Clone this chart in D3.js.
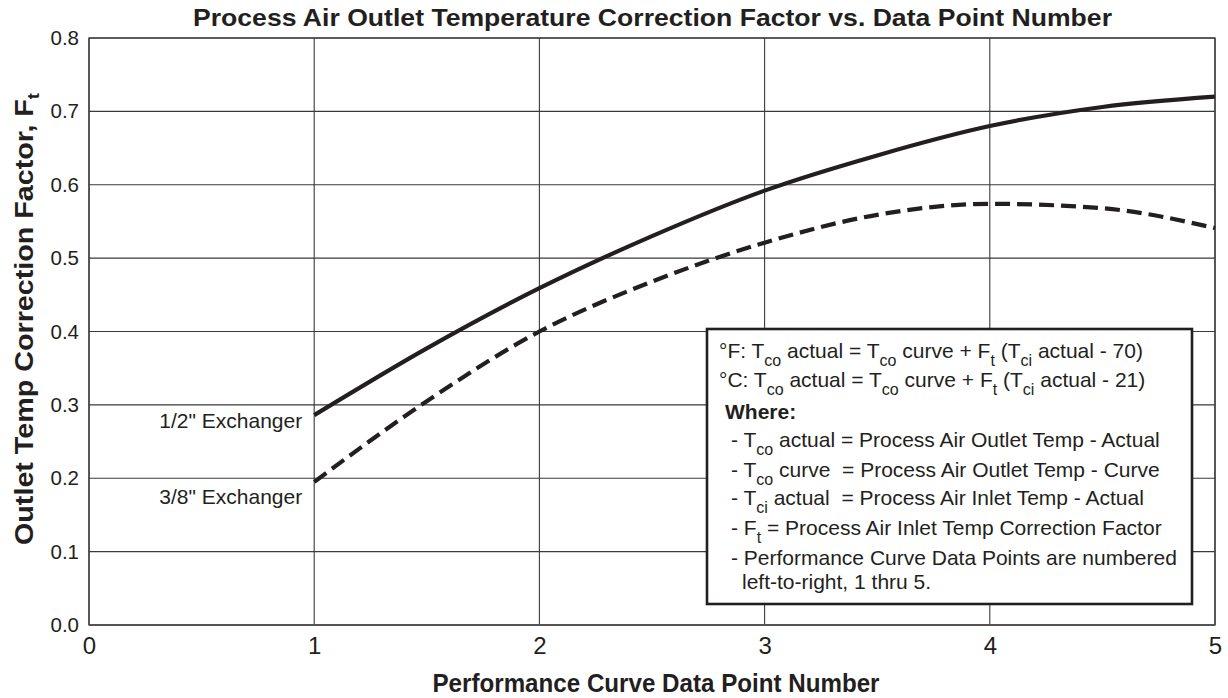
<!DOCTYPE html>
<html>
<head>
<meta charset="utf-8">
<script src="https://cdn.jsdelivr.net/npm/d3@7"></script>
<style>
  html, body { margin: 0; padding: 0; background: #fff; }
  svg text { font-family: "Liberation Sans", Arial, Helvetica, sans-serif; fill: #231f20; }
</style>
</head>
<body>
<svg id="chart" width="1228" height="698"></svg>
<script>
// ---- Data ----
const xTicks = [0, 1, 2, 3, 4, 5];
const yTicks = [0.0, 0.1, 0.2, 0.3, 0.4, 0.5, 0.6, 0.7, 0.8];
const pointNumbers = [1, 1.5, 2, 2.5, 3, 3.5, 4, 4.5, 5];
const halfInchValues = [0.286, 0.377, 0.459, 0.530, 0.592, 0.640, 0.680, 0.706, 0.720];
const threeEighthValues = [0.195, 0.305, 0.400, 0.468, 0.521, 0.559, 0.574, 0.568, 0.541];
const seriesLabels = ['1/2" Exchanger', '3/8" Exchanger'];
const chartTitle = "Process Air Outlet Temperature Correction Factor vs. Data Point Number";
const xTitle = "Performance Curve Data Point Number";
const yTitleMain = "Outlet Temp Correction Factor, F";
const yTitleSub = "t";
const legendLines = [
  [["°F: T"], ["co", 1], [" actual = T"], ["co", 1], [" curve + F"], ["t", 1], [" (T"], ["ci", 1], [" actual - 70)"]],
  [["°C: T"], ["co", 1], [" actual = T"], ["co", 1], [" curve + F"], ["t", 1], [" (T"], ["ci", 1], [" actual - 21)"]],
  [["Where:", 2]],
  [["- T"], ["co", 1], [" actual = Process Air Outlet Temp - Actual"]],
  [["- T"], ["co", 1], [" curve  = Process Air Outlet Temp - Curve"]],
  [["- T"], ["ci", 1], [" actual  = Process Air Inlet Temp - Actual"]],
  [["- F"], ["t", 1], [" = Process Air Inlet Temp Correction Factor"]],
  [["- Performance Curve Data Points are numbered"]],
  [["left-to-right, 1 thru 5."]]
];

(function () {
// ---- Layout ----
const svg = d3.select("#chart");
const ink = "#231f20";
const grid = "#3a3a3a";
const pL = 89, pR = 1215, pT = 38, pB = 625;

const x = d3.scaleLinear().domain([0, 5]).range([pL, pR]);
const y = d3.scaleLinear().domain([0, 0.8]).range([pB, pT]);

// gridlines
svg.append("g").selectAll("line").data(xTicks).join("line")
  .attr("x1", d => x(d)).attr("x2", d => x(d)).attr("y1", pT).attr("y2", pB)
  .attr("stroke", grid).attr("stroke-width", 1.1);
svg.append("g").selectAll("line").data(yTicks).join("line")
  .attr("x1", pL).attr("x2", pR).attr("y1", d => y(d)).attr("y2", d => y(d))
  .attr("stroke", grid).attr("stroke-width", 1.1);
svg.append("rect").attr("x", pL).attr("y", pT).attr("width", pR - pL).attr("height", pB - pT)
  .attr("fill", "none").attr("stroke", grid).attr("stroke-width", 1.3);
svg.append("line").attr("x1", pL).attr("x2", pR).attr("y1", pB).attr("y2", pB)
  .attr("stroke", "#555").attr("stroke-width", 2);

// axes (tick labels via d3 axes)
const xAxis = svg.append("g").attr("transform", `translate(0,${pB})`)
  .call(d3.axisBottom(x).tickValues(xTicks).tickFormat(d3.format("d")).tickSize(0).tickPadding(12));
xAxis.select(".domain").remove();
xAxis.selectAll("text").attr("font-size", 24).attr("fill", ink)
  .style("font-family", '"Liberation Sans", Arial, sans-serif');

const yAxis = svg.append("g").attr("transform", `translate(${pL},0)`)
  .call(d3.axisLeft(y).tickValues(yTicks).tickFormat(d3.format(".1f")).tickSize(0).tickPadding(10));
yAxis.select(".domain").remove();
yAxis.selectAll("text").attr("font-size", 20.5).attr("fill", ink)
  .style("font-family", '"Liberation Sans", Arial, sans-serif');

// curves
const line = d3.line().x((d, i) => x(pointNumbers[i])).y(d => y(d)).curve(d3.curveMonotoneX);
svg.append("path").datum(halfInchValues).attr("d", line)
  .attr("fill", "none").attr("stroke", ink).attr("stroke-width", 4.2);
svg.append("path").datum(threeEighthValues).attr("d", line)
  .attr("fill", "none").attr("stroke", ink).attr("stroke-width", 4.2)
  .attr("stroke-dasharray", "15,7");

// series labels
svg.append("text").attr("x", x(1) - 12).attr("y", y(halfInchValues[0]) + 13)
  .attr("text-anchor", "end").attr("font-size", 21).text(seriesLabels[0]);
svg.append("text").attr("x", x(1) - 12).attr("y", y(threeEighthValues[0]) + 22)
  .attr("text-anchor", "end").attr("font-size", 21).text(seriesLabels[1]);

// title
svg.append("text").attr("x", 652.5).attr("y", 26).attr("text-anchor", "middle")
  .attr("font-size", 24.5).attr("font-weight", "bold")
  .attr("textLength", 919).attr("lengthAdjust", "spacingAndGlyphs").text(chartTitle);

// x axis title
svg.append("text").attr("x", 656).attr("y", 692).attr("text-anchor", "middle")
  .attr("font-size", 25).attr("font-weight", "bold")
  .attr("textLength", 447).attr("lengthAdjust", "spacingAndGlyphs").text(xTitle);

// y axis title
const yt = svg.append("text").attr("transform", "translate(33,319) rotate(-90)")
  .attr("text-anchor", "middle").attr("font-size", 25).attr("font-weight", "bold")
  .attr("textLength", 452).attr("lengthAdjust", "spacingAndGlyphs");
yt.append("tspan").text(yTitleMain);
yt.append("tspan").attr("font-size", 16).attr("dy", 6).text(yTitleSub);

// legend box
svg.append("rect").attr("x", 707).attr("y", 329).attr("width", 485).attr("height", 275)
  .attr("fill", "#fff").attr("stroke", ink).attr("stroke-width", 2.6);

const legendX = [719, 719, 725, 731, 731, 731, 731, 731, 742];
const legendY = [358, 387, 419, 447, 477, 505, 535, 565, 589];
legendLines.forEach((segs, i) => {
  const t = svg.append("text").attr("x", legendX[i]).attr("y", legendY[i])
    .attr("font-size", 21).style("white-space", "pre");
  let shifted = false;
  segs.forEach(s => {
    const ts = t.append("tspan").text(s[0]);
    if (s[1] === 1) {
      ts.attr("font-size", 16).attr("dy", 8);
      shifted = true;
    } else {
      if (shifted) { ts.attr("dy", -8); shifted = false; }
      if (s[1] === 2) ts.attr("font-weight", "bold");
    }
  });
});
})();
</script>
</body>
</html>
